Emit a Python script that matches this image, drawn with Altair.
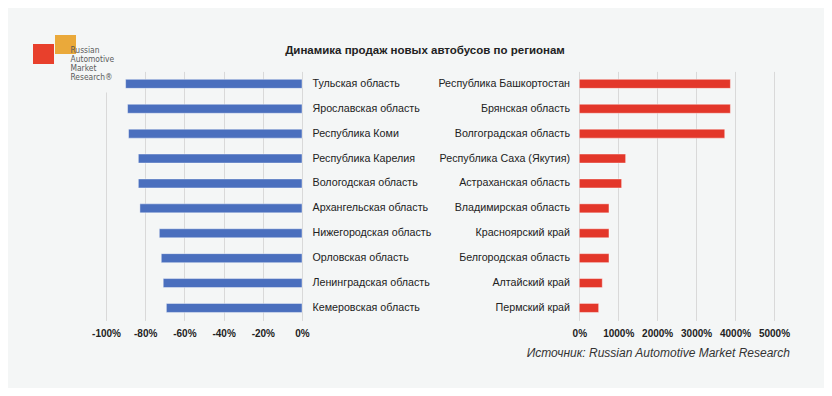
import altair as alt
import pandas as pd

# ---- data ----
left_regions = [
    "Тульская область", "Ярославская область", "Республика Коми",
    "Республика Карелия", "Вологодская область", "Архангельская область",
    "Нижегородская область", "Орловская область", "Ленинградская область",
    "Кемеровская область",
]
left_values = [-90, -89, -88.5, -83.5, -83.5, -82.7, -72.8, -71.8, -70.8, -69.2]

right_regions = [
    "Республика Башкортостан", "Брянская область", "Волгоградская область",
    "Республика Саха (Якутия)", "Астраханская область", "Владимирская область",
    "Красноярский край", "Белгородская область", "Алтайский край", "Пермский край",
]
right_values = [3880, 3880, 3735, 1190, 1087, 762, 762, 762, 590, 497]

left_ticks = [-100, -80, -60, -40, -20, 0]
right_ticks = [0, 1000, 2000, 3000, 4000, 5000]

title_text = "Динамика продаж новых автобусов по регионам"
source_text = "Источник: Russian Automotive Market Research"
logo_lines = ["Russian", "Automotive", "Market", "Research®"]

df = pd.DataFrame({
    "row": list(range(len(left_regions))),
    "lreg": left_regions,
    "lval": left_values,
    "rreg": right_regions,
    "rval": right_values,
    "zero": [0] * len(left_regions),
})

FONT = "Liberation Sans"
BG = "#f4f6f6"
GRID = "#d9d9d9"
W, H = 668, 249

lscale = alt.Scale(domain=[-100, 0], range=[0, 196], nice=False)
rscale = alt.Scale(domain=[0, 5000], range=[473.3, 668], nice=False)
yenc = alt.Y("row:O", axis=None,
             scale=alt.Scale(paddingInner=0, paddingOuter=0))


def xaxis(vals):
    return alt.Axis(values=vals, labelExpr="datum.value + '%'", orient="bottom",
                    grid=True, gridColor=GRID, gridWidth=1, domain=False,
                    ticks=False, title=None, labelFontSize=10,
                    labelFontWeight="bold", labelColor="#222", labelFont=FONT,
                    labelPadding=8, labelFlush=False, labelOverlap=False)


base = alt.Chart(df)

left_bars = base.mark_bar(size=9, color="#4a6fbe", stroke="#ffffff",
                          strokeWidth=0.6, strokeOpacity=0.7).encode(
    x=alt.X("lval:Q", scale=lscale, axis=xaxis(left_ticks)),
    y=yenc,
)
right_bars = base.mark_bar(size=9, color="#e3372a", stroke="#ffffff",
                           strokeWidth=0.6, strokeOpacity=0.7).encode(
    x=alt.X("rval:Q", scale=rscale, axis=xaxis(right_ticks)),
    y=yenc,
)
left_labels = base.mark_text(align="left", baseline="middle", dx=10.5,
                             font=FONT, fontSize=10.7, color="#222").encode(
    x=alt.X("zero:Q", scale=lscale, axis=None),
    y=yenc,
    text="lreg:N",
)
right_labels = base.mark_text(align="right", baseline="middle", dx=-9.3,
                              font=FONT, fontSize=10.7, color="#222").encode(
    x=alt.X("zero:Q", scale=rscale, axis=None),
    y=yenc,
    text="rreg:N",
)

one = alt.Chart(pd.DataFrame({"a": [0]}))

# logo area (covers the top of the first gridline like the logo image does)
logo_bg = one.mark_rect(color=BG).encode(
    x=alt.value(-78), x2=alt.value(4), y=alt.value(-41), y2=alt.value(21))
logo_red = one.mark_rect(color="#e8402c").encode(
    x=alt.value(-73), x2=alt.value(-52), y=alt.value(-27.4), y2=alt.value(-7.4))
logo_orange = one.mark_rect(color="#eaa93a").encode(
    x=alt.value(-51), x2=alt.value(-30), y=alt.value(-36.4), y2=alt.value(-17.4))
logo_layers = []
for i, t in enumerate(logo_lines):
    logo_layers.append(
        one.mark_text(align="left", baseline="middle",
                      font="Liberation Sans Narrow, DejaVu Sans Condensed",
                      fontSize=8.4, color="#5a5a5a", text=t).encode(
            x=alt.value(-35.5), y=alt.value(-21.0 + i * 9.0))
    )

title = one.mark_text(align="center", baseline="alphabetic", font=FONT,
                      fontSize=11.5, fontWeight="bold", color="#222",
                      text=title_text).encode(
    x=alt.value(319), y=alt.value(-17.4))
source = one.mark_text(align="right", baseline="alphabetic", font=FONT,
                       fontSize=12, fontStyle="italic", color="#333",
                       text=source_text).encode(
    x=alt.value(684), y=alt.value(285.3))

chart = alt.layer(
    left_bars, right_bars, left_labels, right_labels,
    logo_bg, logo_red, logo_orange, *logo_layers, title, source,
).resolve_scale(x="independent").resolve_axis(x="independent").properties(
    width=W, height=H, background=BG,
    autosize=alt.AutoSizeParams(type="none"),
    padding={"left": 98, "top": 63.4, "right": 50, "bottom": 67.6},
).configure_view(stroke=None)

chart.save("out.html", embed_options={"renderer": "svg", "actions": False})
